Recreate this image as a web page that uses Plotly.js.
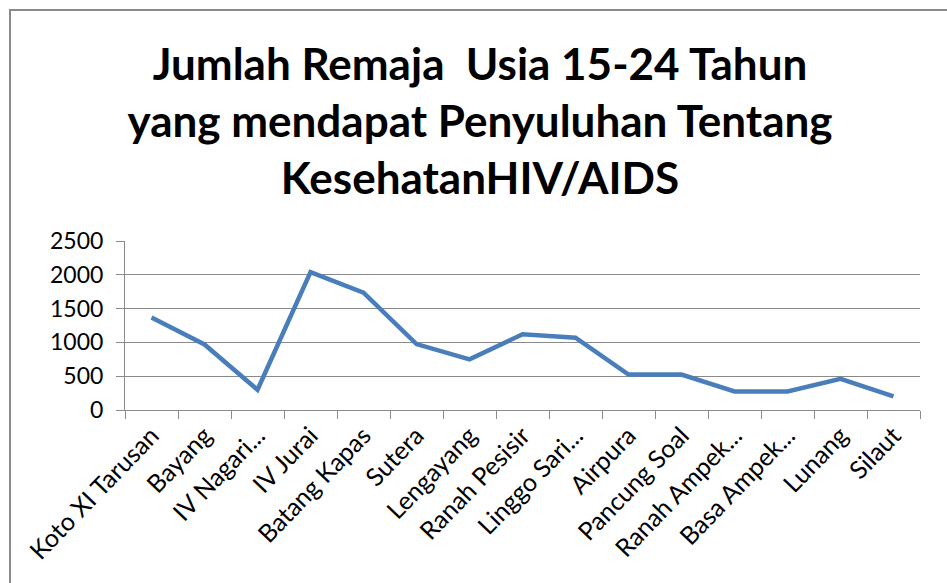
<!DOCTYPE html>
<html>
<head>
<meta charset="utf-8">
<script src="https://cdn.plot.ly/plotly-3.0.1.min.js"></script>
<style>
  html, body { margin:0; padding:0; background:#fff; }
  #wrap { position:relative; width:947px; height:583px; overflow:hidden; }
  #chart { position:absolute; left:0; top:0; width:947px; height:583px; }
  #frame { position:absolute; left:9px; top:9px; width:960px; height:600px;
           border-top:2px solid #8a8a8a; border-left:2px solid #8a8a8a; pointer-events:none; }
</style>
</head>
<body>
<div id="wrap">
  <div id="chart"></div>
  <div id="frame"></div>
</div>
<script>
const categories = ["Koto XI Tarusan", "Bayang", "IV Nagari...", "IV Jurai", "Batang Kapas",
  "Sutera", "Lengayang", "Ranah Pesisir", "Linggo Sari...", "Airpura", "Pancung Soal",
  "Ranah Ampek...", "Basa Ampek...", "Lunang", "Silaut"];
const values = [1370, 970, 300, 2040, 1735, 975, 750, 1120, 1070, 525, 525, 275, 275, 460, 200];
const yTicks = [0, 500, 1000, 1500, 2000, 2500];
const titleText = "Jumlah Remaja  Usia 15-24 Tahun<br>yang mendapat Penyuluhan Tentang<br>KesehatanHIV/AIDS";

const trace = {
  x: categories, y: values, type: "scatter", mode: "lines",
  line: { color: "#4A7EBB", width: 4.5 }, hoverinfo: "skip"
};

const layout = {
  width: 947, height: 583,
  margin: { l: 125, r: 27, t: 241, b: 173 },
  paper_bgcolor: "#ffffff", plot_bgcolor: "#ffffff",
  showlegend: false,
  font: { family: "Lato, 'Open Sans', sans-serif", color: "#000" },
  title: {
    text: titleText,
    font: { family: "Lato, sans-serif", size: 44, color: "#000", weight: "bold" },
    x: 480/947, xanchor: "center", xref: "container",
    y: 1 - 80/583, yanchor: "top", yref: "container"
  },
  xaxis: {
    type: "category", range: [-0.5, categories.length - 0.5],
    tickangle: -46, tickson: "boundaries",
    ticks: "outside", ticklen: 8, tickcolor: "#8a8a8a", tickwidth: 1,
    showline: true, linecolor: "#8a8a8a", linewidth: 1,
    showgrid: false, zeroline: false,
    tickfont: { family: "Lato, sans-serif", size: 25, color: "#000" },
    fixedrange: true
  },
  yaxis: {
    range: [0, 2500], tickvals: yTicks, ticktext: yTicks.map(String),
    ticks: "outside", ticklen: 8, tickcolor: "#8a8a8a",
    ticklabelstandoff: 8,
    showline: true, linecolor: "#8a8a8a", linewidth: 1,
    showgrid: true, gridcolor: "#8a8a8a", gridwidth: 1, zeroline: false,
    tickfont: { family: "Lato, sans-serif", size: 23, color: "#000" },
    fixedrange: true
  }
};

Plotly.newPlot("chart", [trace], layout, { displayModeBar: false, staticPlot: true });
</script>
</body>
</html>
